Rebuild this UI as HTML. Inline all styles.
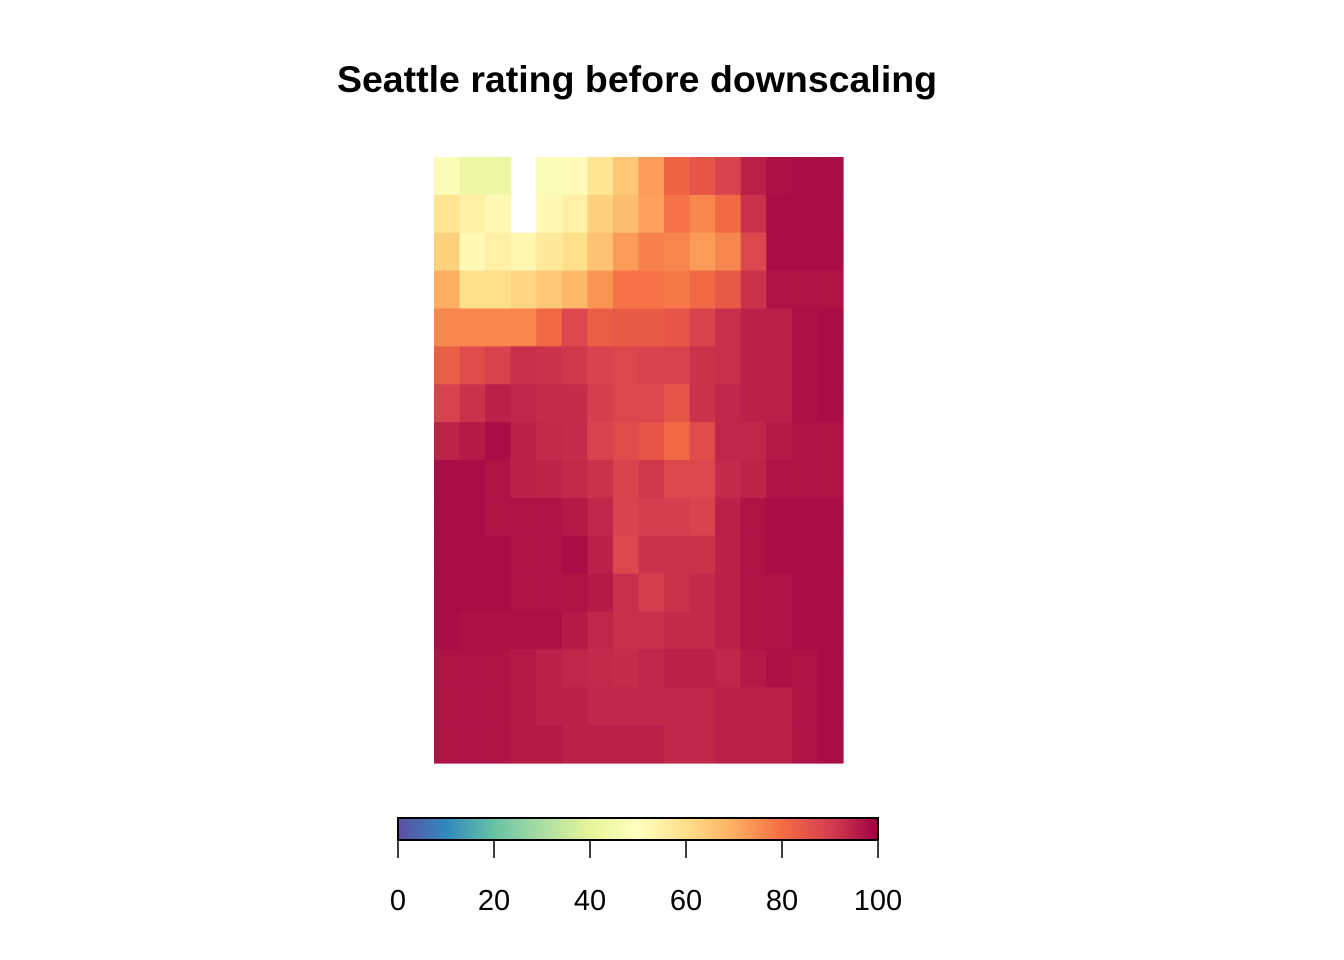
<!DOCTYPE html>
<html><head><meta charset="utf-8"><style>
body{margin:0;background:#fff;}
svg{display:block;font-family:"Liberation Sans",Arial,sans-serif;}
</style></head><body>
<svg id="chart" width="1344" height="960">
<text x="637" y="92" text-anchor="middle" font-size="37.5" font-weight="bold">Seattle rating before downscaling</text>
<g id="cells"></g>
<defs><linearGradient id="cbgrad" x1="0" x2="1" y1="0" y2="0"></linearGradient></defs>
<rect x="398" y="818" width="480" height="22" fill="url(#cbgrad)" stroke="#000" stroke-width="2"/>
<g id="cbticks"></g>
</svg>
<script>
const values = [
[48,43,43,null,48,51,58,65,73,82,85,89,95,97.5,98,98],
[58,55,52,null,52,55,63,67,72,79,76,81,92,98,98,98],
[63,52,55,53,57,60,66,73,77,76,73,76,88,98,98,98],
[70,60,60,62,65,68,74,79,79,78,81,84,92,97,97,97],
[76,76,76,76,81,88,83,84,84,85,89,92.5,95,95,97.5,98],
[83,87,89,92.5,92,91,89,88,89,89,92,92.5,95,95,97.5,98],
[89,92,95,94,93,93,90,88,88,85,92,94,95,95,97.5,98],
[94.5,96,98,95,93.5,93,89,87,85,81,87,94,94,96,97,97],
[98,98,97,95,94.5,93.5,92,89,91,88,88,93.5,94.5,97,97,97],
[98,98,97,97,97,96,94,89,90,90,89,95,97,98,98,98],
[98,98,98,97,97,98,95,88,92,92,92,95,97,98,98,98],
[98,98,98,97,97,97,96,92.5,90,92,93.5,95,97,97,98,98],
[98,97.5,97.5,97.5,97.5,96,94,92.5,92.5,93.5,93.5,95,97,97,98,98],
[97,97,97,96,95,94,93.5,93,94,95,95,94,96,97.5,97,98],
[97,97,97,96,95,95,94,94,94,94,94,95,95,95,97,98],
[97,97,97,96,96,95,95,95,95,94,94,95,95,95,97,98]
];
const tickValues = [0,20,40,60,80,100];
const stops = ["#5E4FA2","#3288BD","#66C2A5","#ABDDA4","#E6F598","#FFFFBF","#FEE08B","#FDAE61","#F46D43","#D53E4F","#9E0142"];
function hex(c){return [1,3,5].map(i=>parseInt(c.substr(i,2),16));}
function color(v){
  const t=Math.max(0,Math.min(100,v))/10;const i=Math.min(9,Math.floor(t));const f=t-i;
  const a=hex(stops[i]),b=hex(stops[i+1]);
  return "rgb("+a.map((x,k)=>Math.round(x+(b[k]-x)*f)).join(",")+")";
}
const NS="http://www.w3.org/2000/svg";
const x0=434,x1=843,y0=157,y1=763;
const nR=values.length,nC=values[0].length;
const cw=(x1-x0)/nC,ch=(y1-y0)/nR;
const g=document.getElementById("cells");
values.forEach((row,r)=>row.forEach((v,c)=>{
  if(v===null)return;
  const el=document.createElementNS(NS,"rect");
  el.setAttribute("x",x0+c*cw);el.setAttribute("y",y0+r*ch);
  el.setAttribute("width",cw+0.6);el.setAttribute("height",ch+0.6);
  el.setAttribute("fill",color(v));
  
  
  g.appendChild(el);
}));
const grad=document.getElementById("cbgrad");
for(let i=0;i<=100;i+=2){
  const s=document.createElementNS(NS,"stop");
  s.setAttribute("offset",i+"%");s.setAttribute("stop-color",color(i));grad.appendChild(s);
}
const cbx=v=>398+v*4.8;
const tg=document.getElementById("cbticks");
tickValues.forEach(v=>{
  const l=document.createElementNS(NS,"line");
  l.setAttribute("x1",cbx(v));l.setAttribute("x2",cbx(v));l.setAttribute("y1",840);l.setAttribute("y2",858);
  l.setAttribute("stroke","#000");l.setAttribute("stroke-width","1.5");
  
  
  tg.appendChild(l);
  const t=document.createElementNS(NS,"text");
  t.setAttribute("x",cbx(v));t.setAttribute("y",910);t.setAttribute("text-anchor","middle");t.setAttribute("font-size","29");
  t.textContent=v;
  
  
  tg.appendChild(t);
});
</script>
</body></html>
